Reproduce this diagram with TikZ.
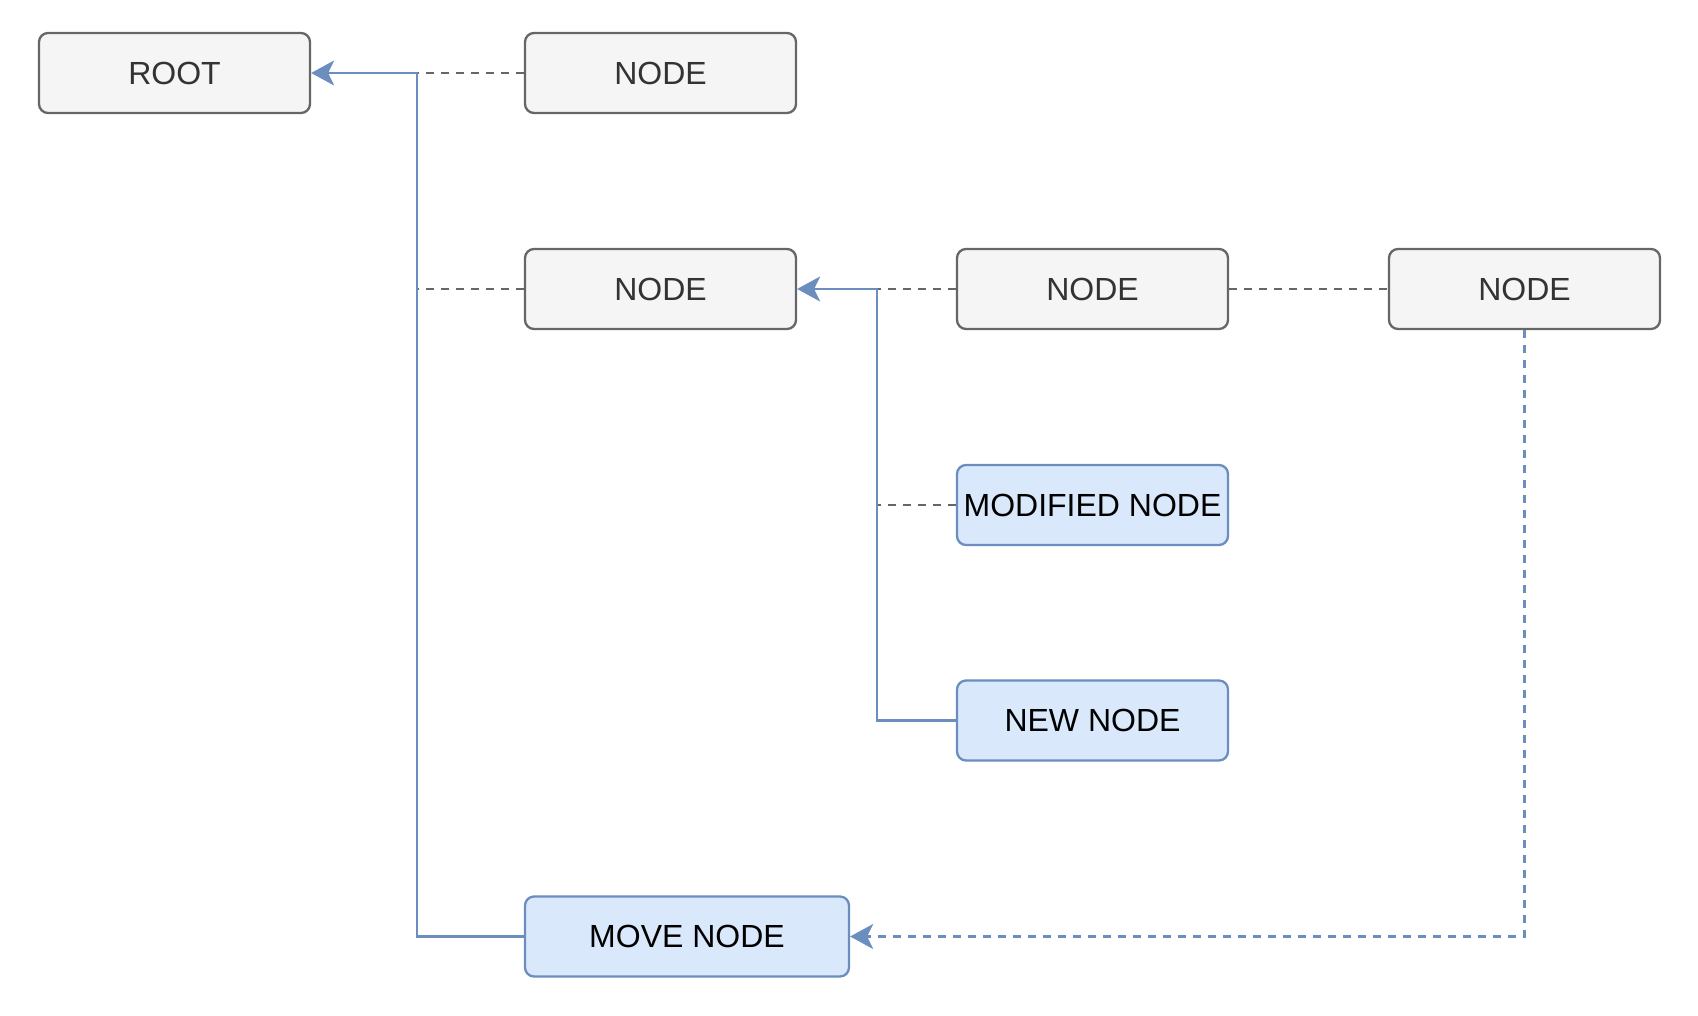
\documentclass[tikz,border=0pt]{standalone}
\usepackage{fontspec}
\setmainfont{Liberation Sans}
\usetikzlibrary{arrows.meta}
\definecolor{grayfill}{HTML}{F5F5F5}
\definecolor{graydraw}{HTML}{666666}
\definecolor{graytext}{HTML}{333333}
\definecolor{bluefill}{HTML}{DAE8FC}
\definecolor{bluedraw}{HTML}{6C8EBF}
\begin{document}
\begin{tikzpicture}[x=0.5pt,y=-0.5pt,
  box/.style={rectangle, rounded corners=4.5pt, line width=1.15pt,
    minimum width=135.5pt, minimum height=40pt, inner sep=0pt,
    font=\fontsize{16}{19}\selectfont},
  plain/.style={box, fill=grayfill, draw=graydraw, text=graytext},
  changed/.style={box, fill=bluefill, draw=bluedraw, text=black},
  link/.style={draw=bluedraw, line width=1.1pt},
  tie/.style={draw=graydraw, line width=1.1pt, dash pattern=on 4pt off 3.5pt},
  moved/.style={draw=bluedraw, line width=1.1pt, dash pattern=on 3.75pt off 3.75pt},
  tip/.style={-{Stealth[length=11.5pt,width=12.5pt,inset=3pt]}}
]
\useasboundingbox (0,0) rectangle (1698,1016);

% vertical spines of the two parent links
\coordinate (spineA) at (417,0);
\coordinate (spineB) at (877,0);

% tree nodes
\node[plain] (root) at (174.5,73) {ROOT};
\node[plain] (n1) at (660.5,73) {NODE};
\node[plain] (n2) at (660.5,289) {NODE};
\node[plain] (n3) at (1092.5,289) {NODE};
\node[plain] (n4) at (1524.5,289) {NODE};
\node[changed] (mod) at (1092.5,505) {MODIFIED NODE};
\node[changed] (new) at (1092.5,720.5) {NEW NODE};
\node[changed, minimum width=162pt] (move) at (687,936.5) {MOVE NODE};

% sibling ties
\draw[tie] (n1.west) -- (spineA |- n1.west);
\draw[tie] (n2.west) -- (spineA |- n2.west);
\draw[tie] (n3.west) -- (spineB |- n3.west);
\draw[tie] (mod.west) -- (spineB |- mod.west);
\draw[tie] (n3.east) -- (n4.west);

% parent links
\draw[link,tip] (move.west) -| (spineA |- root.east) -- (root.east);
\draw[link,tip] (new.west) -| (spineB |- n2.east) -- (n2.east);

% move
\draw[moved,tip] (n4.south) |- (move.east);
\end{tikzpicture}
\end{document}
